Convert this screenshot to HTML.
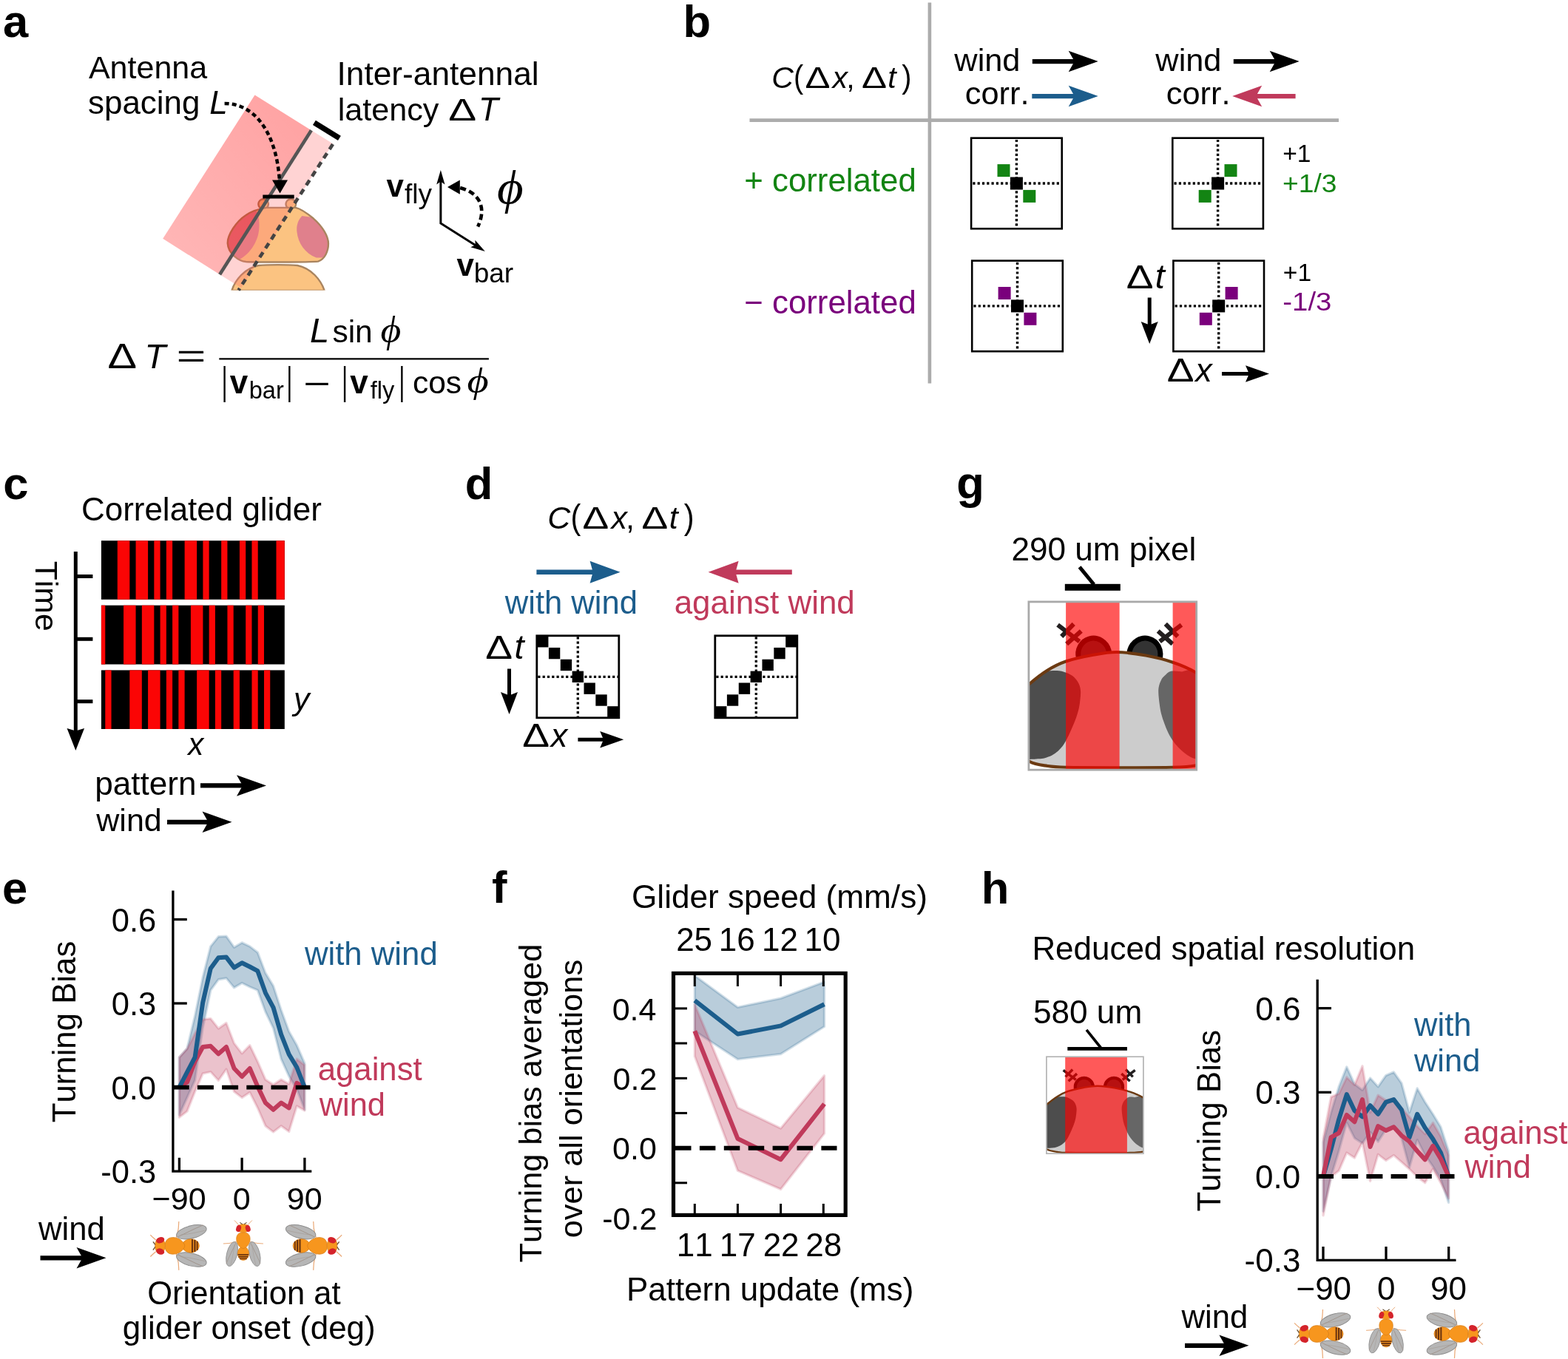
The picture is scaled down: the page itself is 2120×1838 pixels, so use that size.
<!DOCTYPE html>
<html lang="en">
<head>
<meta charset="utf-8">
<title>Figure</title>
<style>
html,body{margin:0;padding:0;background:#fff;}
body{width:2120px;height:1838px;overflow:hidden;}
svg{display:block;}
svg{font-family:"Liberation Sans", Arial, Helvetica, sans-serif;font-kerning:none;}
</style>
</head>
<body>
<svg width="2120" height="1838" viewBox="0 0 2120 1838">
<rect width="2120" height="1838" fill="#fff"/>
<text x="4" y="50.3" font-size="61.5" font-weight="bold">a</text>
<text x="923.55" y="49.6" font-size="61.5" font-weight="bold">b</text>
<text x="4.2" y="675" font-size="61.5" font-weight="bold">c</text>
<text x="628.78" y="674.6" font-size="61.5" font-weight="bold">d</text>
<text x="1293.18" y="674.3" font-size="61.5" font-weight="bold">g</text>
<text x="3.1" y="1222.3" font-size="61.5" font-weight="bold">e</text>
<text x="664.95" y="1221.3" font-size="61.5" font-weight="bold">f</text>
<text x="1326.71" y="1222" font-size="61.5" font-weight="bold">h</text>
<text x="119.92" y="106" font-size="43.02">Antenna</text>
<text x="119.08" y="153.8" font-size="43.91">spacing</text>
<text x="283.15" y="153.8" font-size="44" font-style="italic">L</text>
<text x="455.52" y="115.4" font-size="44.25">Inter-antennal</text>
<text x="456.69" y="163.2" font-size="43.17">latency</text>
<text transform="translate(606.31 163.2) scale(1.3323 1)" font-size="42.6">Δ</text>
<text x="647.05" y="163.2" font-size="44" font-style="italic">T</text>
<defs><linearGradient id="pg" x1="0" y1="1" x2="1" y2="0"><stop offset="0" stop-color="#ff0000" stop-opacity="0.28"/><stop offset="1" stop-color="#ff0000" stop-opacity="0.37"/></linearGradient><clipPath id="clipA"><rect x="200" y="100" width="300" height="292.4"/></clipPath></defs>
<g clip-path="url(#clipA)">
<circle cx="356.11" cy="276.04" r="6.81" fill="#fbc381" stroke="#a9845f" stroke-width="2.4"/><circle cx="393.27" cy="276.04" r="6.81" fill="#fbc381" stroke="#a9845f" stroke-width="2.4"/><defs><clipPath id="clipHeadA"><path d="M 360.37,280.84 L 399.85,280.84 C 406.81,282.38 414.55,287.8 423.84,295.54 C 436.22,306.38 443.96,319.54 443.96,329.6 C 443.96,339.66 439.32,350.5 430.03,353.59 C 416.1,354.75 346.44,354.75 332.51,353.98 C 323.22,353.2 308.51,343.53 307.74,328.82 C 307.35,317.99 319.35,299.41 332.51,290.9 C 338.7,286.64 347.99,282.77 360.37,280.84 Z"/></clipPath></defs><path d="M 360.37,280.84 L 399.85,280.84 C 406.81,282.38 414.55,287.8 423.84,295.54 C 436.22,306.38 443.96,319.54 443.96,329.6 C 443.96,339.66 439.32,350.5 430.03,353.59 C 416.1,354.75 346.44,354.75 332.51,353.98 C 323.22,353.2 308.51,343.53 307.74,328.82 C 307.35,317.99 319.35,299.41 332.51,290.9 C 338.7,286.64 347.99,282.77 360.37,280.84 Z" fill="#fbc381"/><g clip-path="url(#clipHeadA)"><path d="M 346.44,284.71 C 349.54,290.12 351.08,299.41 350.31,308.7 C 349.54,324.18 340.25,341.98 323.22,351.27 L 300,351.27 L 300,284.71 Z" fill="#e0808c"/><path d="M 408.36,292.06 C 402.94,297.86 400.62,304.83 401.39,313.34 C 402.94,328.82 412.23,342.76 427.71,348.56 L 454.8,348.56 L 454.8,302.51 C 439.32,299.41 423.84,293.22 408.36,292.06 Z" fill="#e0808c"/></g><path d="M 360.37,280.84 L 399.85,280.84 C 406.81,282.38 414.55,287.8 423.84,295.54 C 436.22,306.38 443.96,319.54 443.96,329.6 C 443.96,339.66 439.32,350.5 430.03,353.59 C 416.1,354.75 346.44,354.75 332.51,353.98 C 323.22,353.2 308.51,343.53 307.74,328.82 C 307.35,317.99 319.35,299.41 332.51,290.9 C 338.7,286.64 347.99,282.77 360.37,280.84 Z" fill="none" stroke="#a9845f" stroke-width="2.4"/><path d="M 313.31,393.07 C 317.8,378.36 330.96,362.88 349.54,359.01 C 361.92,357.85 389.01,357.85 402.17,359.01 C 420.74,362.88 433.9,378.36 438.7,393.07 Z" fill="#fbc381" stroke="#a9845f" stroke-width="2.4"/>
<polygon points="344.5,128.6 420.9,176.3 297.1,371.3 220.2,322.8" fill="url(#pg)"/>
<polygon points="420.9,176.3 450,194.3 326.2,389.3 297.1,371.3" fill="#ff6e6e" fill-opacity="0.3"/>
</g>
<line x1="420.9" y1="176.3" x2="297.1" y2="371.3" stroke="#555" stroke-width="4.6"/>
<line x1="450" y1="195" x2="322.5" y2="392.4" stroke="#444" stroke-width="4.6" stroke-dasharray="8.2 6.3"/>
<line x1="424.9" y1="165.8" x2="458.9" y2="186.9" stroke="#000" stroke-width="7.3"/>
<line x1="355.3" y1="266.1" x2="397.7" y2="266.1" stroke="#000" stroke-width="5"/>
<path d="M303.6,139.9 C342.4,139.9 373.6,176.3 378,245" fill="none" stroke="#000" stroke-width="4.5" stroke-dasharray="6 4.2"/>
<polygon points="378.5,261.5 368,243.5 389,243.5" fill="#000"/>
<text x="522.54" y="266.3" font-size="42" font-weight="bold">v</text>
<text x="547.08" y="275.4" font-size="37">fly</text>
<text x="617.54" y="372.5" font-size="42" font-weight="bold">v</text>
<text x="640.72" y="381.6" font-size="37">bar</text>
<polyline points="595.85,240 595.85,301.9 650,336.3" fill="none" stroke="#000" stroke-width="3"/>
<polygon points="595.85,230 590.2,249.5 595.85,245.5 601.5,249.5" fill="#000"/>
<polygon points="655.8,340 636.3,334.3 642.7,331.6 642.4,324.8" fill="#000"/>
<path d="M646.1,306.4 C656.5,285 652.5,262 622,254" fill="none" stroke="#000" stroke-width="4.6" stroke-dasharray="8 4.6" stroke-dashoffset="3"/>
<polygon points="605,253.1 621.8,243.4 621.8,262.7" fill="#000"/>
<text transform="translate(672.02 275.41) scale(1.0975 1)" font-size="62.84" font-style="italic" font-family='"Liberation Serif", serif'>ϕ</text>
<text transform="translate(145.54 497.8) scale(1.2255 1)" font-size="48.32">Δ</text>
<text x="195.48" y="497.8" font-size="47" font-style="italic">T</text>
<text transform="translate(238.46 497.3) scale(1.5531 1)" font-size="44">=</text>
<line x1="296.3" y1="485.3" x2="660.9" y2="485.3" stroke="#000" stroke-width="2.2"/>
<text x="419.05" y="463.2" font-size="47" font-style="italic">L</text>
<text x="449.42" y="463.2" font-size="42.5">sin</text>
<text transform="translate(514.57 463.26) scale(1.0751 1)" font-size="49.94" font-style="italic" font-family='"Liberation Serif", serif'>ϕ</text>
<text transform="translate(299.65 532.7) scale(0.5749 1)" font-size="51.5">|</text>
<text transform="translate(387.45 532.7) scale(0.5749 1)" font-size="51.5">|</text>
<text transform="translate(462.25 532.7) scale(0.5749 1)" font-size="51.5">|</text>
<text transform="translate(539.45 532.7) scale(0.5749 1)" font-size="51.5">|</text>
<text x="310.83" y="532.4" font-size="44" font-weight="bold">v</text>
<text x="336.81" y="539" font-size="32.5">bar</text>
<text transform="translate(410.29 533.9) scale(1.4314 1)" font-size="44">−</text>
<text x="473.13" y="532.4" font-size="44" font-weight="bold">v</text>
<text x="500.74" y="539" font-size="32.5">fly</text>
<text x="557.89" y="532.4" font-size="42.5">cos</text>
<text transform="translate(631.6 531.47) scale(1.1637 1)" font-size="48.51" font-style="italic" font-family='"Liberation Serif", serif'>ϕ</text>
<line x1="1256.9" y1="3.5" x2="1256.9" y2="518.5" stroke="#acacac" stroke-width="4.6"/>
<line x1="1013.5" y1="162.6" x2="1810" y2="162.6" stroke="#acacac" stroke-width="4.7"/>
<text x="1043.24" y="119.1" font-size="41" font-style="italic">C</text><text transform="translate(1073.04 119.1) scale(0.8800 1)" font-size="45">(</text><text transform="translate(1088.48 119.1) scale(1.2419 1)" font-size="41.06">Δ</text><text x="1125.54" y="119.1" font-size="41" font-style="italic">x</text><text x="1144.32" y="119.1" font-size="41">,</text><text transform="translate(1164.88 119.1) scale(1.2419 1)" font-size="41.06">Δ</text><text x="1200.34" y="119.1" font-size="41" font-style="italic">t</text><text transform="translate(1219.37 119.1) scale(0.8800 1)" font-size="45">)</text>
<text x="1290.36" y="95.5" font-size="43.34">wind</text>
<text x="1304.86" y="140.6" font-size="43.3">corr.</text>
<line x1="1395.8" y1="83.1" x2="1453.34" y2="83.1" stroke="#000" stroke-width="6.3"/><polygon points="1484.7,83.1 1444.7,97.35 1452.7,83.1 1444.7,68.85" fill="#000"/>
<text x="1562.36" y="95.5" font-size="43.34">wind</text>
<text x="1576.86" y="140.6" font-size="43.3">corr.</text>
<line x1="1667.8" y1="83.1" x2="1725.34" y2="83.1" stroke="#000" stroke-width="6.3"/><polygon points="1756.7,83.1 1716.7,97.35 1724.7,83.1 1716.7,68.85" fill="#000"/>
<line x1="1395.3" y1="130.1" x2="1453.34" y2="130.1" stroke="#1c5d8c" stroke-width="6.3"/><polygon points="1484.7,130.1 1444.7,144.35 1452.7,130.1 1444.7,115.85" fill="#1c5d8c"/>
<line x1="1751.6" y1="130.1" x2="1697.56" y2="130.1" stroke="#c03a5b" stroke-width="6.3"/><polygon points="1666.2,130.1 1706.2,115.85 1698.2,130.1 1706.2,144.35" fill="#c03a5b"/>
<text x="1006.26" y="258.6" font-size="43.81" fill="#138413">+ correlated</text>
<text x="1006.24" y="423.6" font-size="43.81" fill="#7a007c">− correlated</text>
<line x1="1374.4" y1="188.9" x2="1374.4" y2="308.3" stroke="#000" stroke-width="3.4" stroke-dasharray="3.2 3.1"/><line x1="1315.3" y1="248" x2="1434.7" y2="248" stroke="#000" stroke-width="3.4" stroke-dasharray="3.2 3.1"/><rect x="1365.9" y="239.5" width="17" height="17" fill="#000"/><rect x="1348.5" y="222.1" width="17" height="17" fill="#138413"/><rect x="1383.3" y="256.9" width="17" height="17" fill="#138413"/><rect x="1313.1" y="186.7" width="122.6" height="122.6" fill="none" stroke="#000" stroke-width="2.6"/>
<line x1="1646.6" y1="188.9" x2="1646.6" y2="308.3" stroke="#000" stroke-width="3.4" stroke-dasharray="3.2 3.1"/><line x1="1587.5" y1="248" x2="1706.9" y2="248" stroke="#000" stroke-width="3.4" stroke-dasharray="3.2 3.1"/><rect x="1638.1" y="239.5" width="17" height="17" fill="#000"/><rect x="1655.5" y="222.1" width="17" height="17" fill="#138413"/><rect x="1620.7" y="256.9" width="17" height="17" fill="#138413"/><rect x="1585.3" y="186.7" width="122.6" height="122.6" fill="none" stroke="#000" stroke-width="2.6"/>
<line x1="1375.5" y1="354.8" x2="1375.5" y2="474.2" stroke="#000" stroke-width="3.4" stroke-dasharray="3.2 3.1"/><line x1="1316.4" y1="413.9" x2="1435.8" y2="413.9" stroke="#000" stroke-width="3.4" stroke-dasharray="3.2 3.1"/><rect x="1367" y="405.4" width="17" height="17" fill="#000"/><rect x="1349.6" y="388" width="17" height="17" fill="#7a007c"/><rect x="1384.4" y="422.8" width="17" height="17" fill="#7a007c"/><rect x="1314.2" y="352.6" width="122.6" height="122.6" fill="none" stroke="#000" stroke-width="2.6"/>
<line x1="1647.7" y1="354.8" x2="1647.7" y2="474.2" stroke="#000" stroke-width="3.4" stroke-dasharray="3.2 3.1"/><line x1="1588.6" y1="413.9" x2="1708" y2="413.9" stroke="#000" stroke-width="3.4" stroke-dasharray="3.2 3.1"/><rect x="1639.2" y="405.4" width="17" height="17" fill="#000"/><rect x="1656.6" y="388" width="17" height="17" fill="#7a007c"/><rect x="1621.8" y="422.8" width="17" height="17" fill="#7a007c"/><rect x="1586.4" y="352.6" width="122.6" height="122.6" fill="none" stroke="#000" stroke-width="2.6"/>
<text transform="translate(1734.16 219.2) scale(0.9875 1)" font-size="34">+1</text>
<text transform="translate(1733.98 259.7) scale(1.0785 1)" font-size="34.5" fill="#138413">+1/3</text>
<text transform="translate(1734.86 379.6) scale(0.9875 1)" font-size="34">+1</text>
<text transform="translate(1734.3 420) scale(1.1117 1)" font-size="34.5" fill="#7a007c">-1/3</text>
<text transform="translate(1522.66 389.5) scale(1.2330 1)" font-size="44.69">Δ</text>
<text x="1561.67" y="389.5" font-size="47" font-style="italic">t</text>
<line x1="1554.2" y1="402.5" x2="1554.2" y2="440.01" stroke="#000" stroke-width="5"/><polygon points="1554.2,465 1542.7,435 1554.2,439.5 1565.7,435" fill="#000"/>
<text transform="translate(1577.86 515.5) scale(1.2330 1)" font-size="44.69">Δ</text>
<text x="1616.3" y="515.5" font-size="45" font-style="italic">x</text>
<line x1="1652" y1="505.6" x2="1689.34" y2="505.6" stroke="#000" stroke-width="5"/><polygon points="1716,505.6 1684,516.85 1688.8,505.6 1684,494.35" fill="#000"/>
<text x="109.97" y="704.4" font-size="43.96">Correlated glider</text>
<rect x="136.9" y="731.2" width="247.9" height="79.6" fill="#000"/>
<rect x="158.78" y="731.2" width="16.52" height="79.6" fill="#fb0505"/>
<rect x="183.56" y="731.2" width="16.52" height="79.6" fill="#fb0505"/>
<rect x="208.33" y="731.2" width="8.26" height="79.6" fill="#fb0505"/>
<rect x="224.85" y="731.2" width="8.26" height="79.6" fill="#fb0505"/>
<rect x="249.62" y="731.2" width="16.52" height="79.6" fill="#fb0505"/>
<rect x="274.4" y="731.2" width="8.26" height="79.6" fill="#fb0505"/>
<rect x="299.17" y="731.2" width="8.26" height="79.6" fill="#fb0505"/>
<rect x="323.94" y="731.2" width="8.26" height="79.6" fill="#fb0505"/>
<rect x="340.46" y="731.2" width="8.26" height="79.6" fill="#fb0505"/>
<rect x="373.49" y="731.2" width="11.31" height="79.6" fill="#fb0505"/>
<rect x="136.9" y="818.7" width="247.9" height="79.8" fill="#000"/>
<rect x="136.9" y="818.7" width="5.37" height="79.8" fill="#fb0505"/>
<rect x="167.04" y="818.7" width="16.52" height="79.8" fill="#fb0505"/>
<rect x="191.82" y="818.7" width="16.52" height="79.8" fill="#fb0505"/>
<rect x="216.59" y="818.7" width="8.26" height="79.8" fill="#fb0505"/>
<rect x="233.11" y="818.7" width="8.26" height="79.8" fill="#fb0505"/>
<rect x="257.88" y="818.7" width="16.52" height="79.8" fill="#fb0505"/>
<rect x="282.65" y="818.7" width="8.26" height="79.8" fill="#fb0505"/>
<rect x="307.43" y="818.7" width="8.26" height="79.8" fill="#fb0505"/>
<rect x="332.2" y="818.7" width="8.26" height="79.8" fill="#fb0505"/>
<rect x="348.72" y="818.7" width="8.26" height="79.8" fill="#fb0505"/>
<rect x="136.9" y="906.4" width="247.9" height="79.6" fill="#000"/>
<rect x="142.27" y="906.4" width="8.26" height="79.6" fill="#fb0505"/>
<rect x="175.3" y="906.4" width="16.52" height="79.6" fill="#fb0505"/>
<rect x="200.07" y="906.4" width="16.52" height="79.6" fill="#fb0505"/>
<rect x="224.85" y="906.4" width="8.26" height="79.6" fill="#fb0505"/>
<rect x="241.36" y="906.4" width="8.26" height="79.6" fill="#fb0505"/>
<rect x="266.14" y="906.4" width="16.52" height="79.6" fill="#fb0505"/>
<rect x="290.91" y="906.4" width="8.26" height="79.6" fill="#fb0505"/>
<rect x="315.69" y="906.4" width="8.26" height="79.6" fill="#fb0505"/>
<rect x="340.46" y="906.4" width="8.26" height="79.6" fill="#fb0505"/>
<rect x="356.98" y="906.4" width="8.26" height="79.6" fill="#fb0505"/>
<line x1="102.3" y1="746" x2="102.3" y2="989.13" stroke="#000" stroke-width="5"/><polygon points="102.3,1015 90.55,985 102.3,988.6 114.05,985" fill="#000"/>
<line x1="102.3" y1="779.5" x2="125.4" y2="779.5" stroke="#000" stroke-width="5"/>
<line x1="102.3" y1="864.3" x2="125.4" y2="864.3" stroke="#000" stroke-width="5"/>
<line x1="102.3" y1="948.7" x2="125.4" y2="948.7" stroke="#000" stroke-width="5"/>
<text transform="translate(47.7,758.8) rotate(90)" font-size="42.7">Time</text>
<text x="396.94" y="959.5" font-size="43" font-style="italic">y</text>
<text x="254.18" y="1020.8" font-size="42" font-style="italic">x</text>
<text x="128.16" y="1075.1" font-size="44.1">pattern</text>
<line x1="271" y1="1062.4" x2="328.64" y2="1062.4" stroke="#000" stroke-width="6.3"/><polygon points="360,1062.4 320,1076.65 328,1062.4 320,1048.15" fill="#000"/>
<text x="130.26" y="1123.9" font-size="43.04">wind</text>
<line x1="226" y1="1111.8" x2="282.14" y2="1111.8" stroke="#000" stroke-width="6.3"/><polygon points="313.5,1111.8 273.5,1126.05 281.5,1111.8 273.5,1097.55" fill="#000"/>
<g transform="translate(742.6 715) scale(1.047)"><text x="-2.26" y="0" font-size="41" font-style="italic">C</text><text transform="translate(27.54 0) scale(0.8800 1)" font-size="45">(</text><text transform="translate(42.98 0) scale(1.2419 1)" font-size="41.06">Δ</text><text x="80.04" y="0" font-size="41" font-style="italic">x</text><text x="98.82" y="0" font-size="41">,</text><text transform="translate(119.38 0) scale(1.2419 1)" font-size="41.06">Δ</text><text x="154.84" y="0" font-size="41" font-style="italic">t</text><text transform="translate(173.87 0) scale(0.8800 1)" font-size="45">)</text></g>
<line x1="725.4" y1="773.8" x2="802.44" y2="773.8" stroke="#1c5d8c" stroke-width="6.5"/><polygon points="838.6,773.8 797.6,788.8 801.7,773.8 797.6,758.8" fill="#1c5d8c"/>
<line x1="1070.8" y1="773.8" x2="993.76" y2="773.8" stroke="#c03a5b" stroke-width="6.5"/><polygon points="957.6,773.8 998.6,758.8 994.5,773.8 998.6,788.8" fill="#c03a5b"/>
<text x="682.76" y="829.6" font-size="43.58" fill="#1c5d8c">with wind</text>
<text x="911.63" y="829.6" font-size="43.93" fill="#c03a5b">against wind</text>
<line x1="781.3" y1="861.3" x2="781.3" y2="970.3" stroke="#000" stroke-width="3.3" stroke-dasharray="3.2 3.1"/><line x1="727.3" y1="915.3" x2="836.3" y2="915.3" stroke="#000" stroke-width="3.3" stroke-dasharray="3.2 3.1"/><rect x="726.05" y="860.05" width="15.36" height="15.36" fill="#000"/><rect x="741.91" y="875.91" width="15.36" height="15.36" fill="#000"/><rect x="757.76" y="891.76" width="15.36" height="15.36" fill="#000"/><rect x="773.62" y="907.62" width="15.36" height="15.36" fill="#000"/><rect x="789.48" y="923.48" width="15.36" height="15.36" fill="#000"/><rect x="805.34" y="939.34" width="15.36" height="15.36" fill="#000"/><rect x="821.19" y="955.19" width="15.36" height="15.36" fill="#000"/><rect x="725.8" y="859.8" width="111" height="111" fill="none" stroke="#000" stroke-width="2.8"/>
<line x1="1022.3" y1="861.3" x2="1022.3" y2="970.3" stroke="#000" stroke-width="3.3" stroke-dasharray="3.2 3.1"/><line x1="968.3" y1="915.3" x2="1077.3" y2="915.3" stroke="#000" stroke-width="3.3" stroke-dasharray="3.2 3.1"/><rect x="1062.19" y="860.05" width="15.36" height="15.36" fill="#000"/><rect x="1046.34" y="875.91" width="15.36" height="15.36" fill="#000"/><rect x="1030.48" y="891.76" width="15.36" height="15.36" fill="#000"/><rect x="1014.62" y="907.62" width="15.36" height="15.36" fill="#000"/><rect x="998.76" y="923.48" width="15.36" height="15.36" fill="#000"/><rect x="982.91" y="939.34" width="15.36" height="15.36" fill="#000"/><rect x="967.05" y="955.19" width="15.36" height="15.36" fill="#000"/><rect x="966.8" y="859.8" width="111" height="111" fill="none" stroke="#000" stroke-width="2.8"/>
<text transform="translate(656.36 890.5) scale(1.2330 1)" font-size="44.69">Δ</text>
<text x="695.47" y="890.5" font-size="47" font-style="italic">t</text>
<line x1="688.5" y1="904.5" x2="688.5" y2="941.01" stroke="#000" stroke-width="5"/><polygon points="688.5,966 677,936 688.5,940.5 700,936" fill="#000"/>
<text transform="translate(706.36 1010.4) scale(1.2330 1)" font-size="44.69">Δ</text>
<text x="744.8" y="1010.4" font-size="45" font-style="italic">x</text>
<line x1="781.4" y1="1000.3" x2="816.54" y2="1000.3" stroke="#000" stroke-width="5"/><polygon points="843.2,1000.3 811.2,1011.55 816,1000.3 811.2,989.05" fill="#000"/>
<text x="1367.38" y="757.7" font-size="44.09">290 um pixel</text>
<rect x="1439.8" y="789.8" width="75" height="9" fill="#000"/>
<line x1="1459.6" y1="766.9" x2="1479" y2="790.5" stroke="#000" stroke-width="5"/>
<defs><clipPath id="clipG"><rect x="1390.9" y="813.9" width="226.8" height="227.3"/></clipPath></defs>
<g clip-path="url(#clipG)">
<ellipse cx="1478.8" cy="885.1" rx="21" ry="22" fill="#333" stroke="#000" stroke-width="7" transform="rotate(-15 1478.8 885.1)"/><ellipse cx="1547.8" cy="885.1" rx="21" ry="22" fill="#333" stroke="#000" stroke-width="7" transform="rotate(15 1547.8 885.1)"/><line x1="1430.1" y1="845.2" x2="1459.5" y2="867.7" stroke="#231f20" stroke-width="6"/><line x1="1442.1" y1="870.9" x2="1461.8" y2="853.4" stroke="#231f20" stroke-width="6"/><line x1="1435.2" y1="860.8" x2="1451.7" y2="843.8" stroke="#231f20" stroke-width="6"/><line x1="1597.4" y1="845.2" x2="1568" y2="867.7" stroke="#231f20" stroke-width="6"/><line x1="1585.4" y1="870.9" x2="1565.7" y2="853.4" stroke="#231f20" stroke-width="6"/><line x1="1592.3" y1="860.8" x2="1575.8" y2="843.8" stroke="#231f20" stroke-width="6"/><defs><clipPath id="hcG"><path d="M1392.1,924.8 C1399.15,918.72 1408.13,911.55 1416.3,906.5 C1424.47,901.45 1431.02,897.92 1441.1,894.5 C1451.18,891.08 1465.32,888.08 1476.8,886 C1488.28,883.92 1497.92,881.92 1510,882 C1522.08,882.08 1536.7,884.22 1549.3,886.5 C1561.9,888.78 1574.52,891.95 1585.6,895.7 C1596.68,899.45 1606.73,903.62 1615.8,909 C1624.87,914.38 1633.47,918.67 1640,928 C1646.53,937.33 1653.33,952.17 1655,965 C1656.67,977.83 1653.83,994.5 1650,1005 C1646.17,1015.5 1637.7,1022.93 1632,1028 C1626.3,1033.07 1623.53,1033.77 1615.8,1035.4 C1608.07,1037.03 1602.73,1037.33 1585.6,1037.8 C1568.47,1038.27 1537.08,1038.2 1513,1038.2 C1488.92,1038.2 1457.22,1038.17 1441.1,1037.8 C1424.98,1037.43 1424.47,1037.3 1416.3,1036 C1408.13,1034.7 1399.15,1034 1392.1,1030 C1385.05,1026 1378.35,1021.17 1374,1012 C1369.65,1002.83 1366,986.5 1366,975 C1366,963.5 1369.65,951.37 1374,943 C1378.35,934.63 1385.05,930.88 1392.1,924.8 Z"/></clipPath></defs><path d="M1392.1,924.8 C1399.15,918.72 1408.13,911.55 1416.3,906.5 C1424.47,901.45 1431.02,897.92 1441.1,894.5 C1451.18,891.08 1465.32,888.08 1476.8,886 C1488.28,883.92 1497.92,881.92 1510,882 C1522.08,882.08 1536.7,884.22 1549.3,886.5 C1561.9,888.78 1574.52,891.95 1585.6,895.7 C1596.68,899.45 1606.73,903.62 1615.8,909 C1624.87,914.38 1633.47,918.67 1640,928 C1646.53,937.33 1653.33,952.17 1655,965 C1656.67,977.83 1653.83,994.5 1650,1005 C1646.17,1015.5 1637.7,1022.93 1632,1028 C1626.3,1033.07 1623.53,1033.77 1615.8,1035.4 C1608.07,1037.03 1602.73,1037.33 1585.6,1037.8 C1568.47,1038.27 1537.08,1038.2 1513,1038.2 C1488.92,1038.2 1457.22,1038.17 1441.1,1037.8 C1424.98,1037.43 1424.47,1037.3 1416.3,1036 C1408.13,1034.7 1399.15,1034 1392.1,1030 C1385.05,1026 1378.35,1021.17 1374,1012 C1369.65,1002.83 1366,986.5 1366,975 C1366,963.5 1369.65,951.37 1374,943 C1378.35,934.63 1385.05,930.88 1392.1,924.8 Z" fill="#ccc"/><g clip-path="url(#hcG)"><path d="M1416.28,907.21 C1418.91,907.21 1427.37,906.61 1432.01,907.21 C1436.64,907.82 1440.68,909.33 1444.1,910.84 C1447.53,912.35 1450.15,913.97 1452.57,916.28 C1454.99,918.6 1457.21,921.73 1458.62,924.75 C1460.03,927.77 1460.73,930.8 1461.04,934.43 C1461.34,938.06 1460.83,942.49 1460.43,946.52 C1460.03,950.55 1459.52,954.58 1458.62,958.62 C1457.71,962.65 1456.4,966.68 1454.99,970.71 C1453.58,974.74 1451.86,978.77 1450.15,982.81 C1448.44,986.84 1446.72,990.87 1444.71,994.9 C1442.69,998.93 1440.37,1003.57 1438.06,1007 C1435.74,1010.42 1433.42,1013.04 1430.8,1015.46 C1428.18,1017.88 1425.36,1019.9 1422.33,1021.51 C1419.31,1023.12 1415.68,1024.33 1412.66,1025.14 C1409.63,1025.94 1407.62,1026.04 1404.19,1026.35 C1400.76,1026.65 1398.14,1026.85 1392.09,1026.95 C1386.05,1027.05 1371.94,1026.95 1367.91,1026.95 L1343.72,1026.95 L1343.72,892.09 Z" fill="#4d4d4d"/><path d="M1597.71,908.42 C1595.29,908.32 1587.02,906.91 1583.19,907.82 C1579.36,908.73 1576.94,911.85 1574.73,913.87 C1572.51,915.88 1571.2,917.49 1569.89,919.91 C1568.58,922.33 1567.47,925.56 1566.87,928.38 C1566.26,931.2 1566.16,933.22 1566.26,936.85 C1566.36,940.47 1566.87,945.51 1567.47,950.15 C1568.07,954.79 1568.78,960.03 1569.89,964.66 C1571,969.3 1572.51,973.53 1574.12,977.97 C1575.73,982.4 1577.45,987.04 1579.56,991.27 C1581.68,995.51 1584.2,999.74 1586.82,1003.37 C1589.44,1007 1592.26,1010.12 1595.29,1013.04 C1598.31,1015.97 1601.54,1018.69 1604.96,1020.9 C1608.39,1023.12 1611.01,1024.94 1615.85,1026.35 C1620.69,1027.76 1630.97,1028.87 1633.99,1029.37 L1658.18,1029.37 L1658.18,892.09 Z" fill="#666"/></g><path d="M1392.1,924.8 C1399.15,918.72 1408.13,911.55 1416.3,906.5 C1424.47,901.45 1431.02,897.92 1441.1,894.5 C1451.18,891.08 1465.32,888.08 1476.8,886 C1488.28,883.92 1497.92,881.92 1510,882 C1522.08,882.08 1536.7,884.22 1549.3,886.5 C1561.9,888.78 1574.52,891.95 1585.6,895.7 C1596.68,899.45 1606.73,903.62 1615.8,909 C1624.87,914.38 1633.47,918.67 1640,928 C1646.53,937.33 1653.33,952.17 1655,965 C1656.67,977.83 1653.83,994.5 1650,1005 C1646.17,1015.5 1637.7,1022.93 1632,1028 C1626.3,1033.07 1623.53,1033.77 1615.8,1035.4 C1608.07,1037.03 1602.73,1037.33 1585.6,1037.8 C1568.47,1038.27 1537.08,1038.2 1513,1038.2 C1488.92,1038.2 1457.22,1038.17 1441.1,1037.8 C1424.98,1037.43 1424.47,1037.3 1416.3,1036 C1408.13,1034.7 1399.15,1034 1392.1,1030 C1385.05,1026 1378.35,1021.17 1374,1012 C1369.65,1002.83 1366,986.5 1366,975 C1366,963.5 1369.65,951.37 1374,943 C1378.35,934.63 1385.05,930.88 1392.1,924.8 Z" fill="none" stroke="#6b3a12" stroke-width="4.1"/>
<rect x="1441.1" y="813.9" width="72.5" height="227.3" fill="#ff0000" fill-opacity="0.65"/>
<rect x="1585.6" y="813.9" width="34.4" height="227.3" fill="#ff0000" fill-opacity="0.65"/>
</g>
<rect x="1390.9" y="813.9" width="226.8" height="227.3" fill="none" stroke="#a9a9a9" stroke-width="2.8"/>
<polygon points="242.4,1430 252.99,1418 263.59,1374 274.18,1322 284.78,1280 295.37,1266.8 305.96,1266.2 316.56,1281.3 327.15,1274.9 337.75,1280 348.34,1288.2 358.93,1316 369.53,1333.5 380.12,1366 390.72,1395 401.31,1413.7 411.9,1438 411.9,1500.7 401.31,1473 390.72,1455.5 380.12,1432.2 369.53,1390.4 358.93,1368.4 348.34,1339.3 337.75,1334.7 327.15,1329.5 316.56,1335.8 305.96,1323 295.37,1324.8 284.78,1339.3 274.18,1390 263.59,1461 252.99,1484.5 242.4,1507.7" fill="#1c5d8c" fill-opacity="0.31" stroke="#1c5d8c" stroke-opacity="0.2" stroke-width="3.4" stroke-linejoin="round"/>
<polygon points="242.4,1430 252.99,1418.5 263.59,1397.5 274.18,1378.8 284.78,1377.6 295.37,1391 305.96,1383.5 316.56,1411 327.15,1424.7 337.75,1413.7 348.34,1435.7 358.93,1460 369.53,1467 380.12,1460 390.72,1466 401.31,1432.2 411.9,1440.4 411.9,1502 401.31,1496 390.72,1530.4 380.12,1522.8 369.53,1531 358.93,1522.8 348.34,1498.4 337.75,1477.5 327.15,1484.5 316.56,1476.4 305.96,1446.2 295.37,1461.3 284.78,1449.7 274.18,1452 263.59,1476.4 252.99,1503 242.4,1511.2" fill="#c03a5b" fill-opacity="0.31" stroke="#c03a5b" stroke-opacity="0.2" stroke-width="3.4" stroke-linejoin="round"/>
<polyline points="242.4,1470.6 252.99,1463.6 263.59,1435.7 274.18,1416 284.78,1414.8 295.37,1425.3 305.96,1416 316.56,1445 327.15,1456 337.75,1445 348.34,1469.4 358.93,1491.5 369.53,1500.8 380.12,1491.5 390.72,1498.4 401.31,1464.8 411.9,1470.6" fill="none" stroke="#c03a5b" stroke-width="6" stroke-linejoin="round"/>
<polyline points="242.4,1470.6 252.99,1450 263.59,1430 274.18,1356 284.78,1309.7 295.37,1295.2 305.96,1294.6 316.56,1308.6 327.15,1302.2 337.75,1307.5 348.34,1313.2 358.93,1342.8 369.53,1362.6 380.12,1399 390.72,1426 401.31,1443.5 411.9,1470.6" fill="none" stroke="#1c5d8c" stroke-width="6" stroke-linejoin="round"/>
<line x1="233.7" y1="1470.6" x2="419.5" y2="1470.6" stroke="#000" stroke-width="5.8" stroke-dasharray="22 11.2"/>
<polyline points="233.9,1204.4 233.9,1584.2 421.3,1584.2" fill="none" stroke="#000" stroke-width="3.3"/>
<line x1="233.9" y1="1243.5" x2="252.8" y2="1243.5" stroke="#000" stroke-width="3.3"/>
<line x1="233.9" y1="1357" x2="252.8" y2="1357" stroke="#000" stroke-width="3.3"/>
<line x1="233.9" y1="1470.6" x2="252.8" y2="1470.6" stroke="#000" stroke-width="3.3"/>
<line x1="242.4" y1="1565.8" x2="242.4" y2="1584.2" stroke="#000" stroke-width="3.3"/>
<line x1="327.1" y1="1565.8" x2="327.1" y2="1584.2" stroke="#000" stroke-width="3.3"/>
<line x1="411.9" y1="1565.8" x2="411.9" y2="1584.2" stroke="#000" stroke-width="3.3"/>
<text x="150.74" y="1259.5" font-size="43.5">0.6</text>
<text x="150.74" y="1373" font-size="43.5">0.3</text>
<text x="150.53" y="1486.6" font-size="43.5">0.0</text>
<text x="136.25" y="1600.2" font-size="43.5">-0.3</text>
<text x="205.61" y="1636" font-size="43">−90</text>
<text x="314.74" y="1636" font-size="43">0</text>
<text x="387.82" y="1636" font-size="43">90</text>
<g transform="translate(102.2,1395.8) rotate(-90)"><text x="-122.48" y="0" font-size="43.74">Turning Bias</text></g>
<text x="411.96" y="1305.4" font-size="43.71" fill="#1c5d8c">with wind</text>
<text x="429.74" y="1460.5" font-size="43.69" fill="#c03a5b">against</text>
<text x="431.66" y="1508.5" font-size="43.44" fill="#c03a5b">wind</text>
<text x="52.06" y="1676.5" font-size="43.64">wind</text><line x1="54.5" y1="1701.3" x2="112.14" y2="1701.3" stroke="#000" stroke-width="6.3"/><polygon points="143.5,1701.3 103.5,1715.55 111.5,1701.3 103.5,1687.05" fill="#000"/>
<g transform="translate(241.8 1684.9) rotate(-90) scale(1.22)"><g transform="scale(1 1)"><path d="M6.5,-25.5 L9.5,-29 L12,-31.5" fill="none" stroke="#eaa977" stroke-width="1"/><path d="M9,-3 L14,-1.5 L19,-0.5 L27,0" fill="none" stroke="#eaa977" stroke-width="1"/><path d="M6,10 L10,17 L11,22" fill="none" stroke="#eaa977" stroke-width="1"/><ellipse cx="15.3" cy="14" rx="7" ry="17" transform="rotate(-14 15.3 14)" fill="#b6b6b6" stroke="#8c8c8c" stroke-width="0.8"/><path d="M10,-1 C14,8 19,17 23,27" fill="none" stroke="#9d8f86" stroke-width="0.7"/><path d="M12,2 C13,12 15,20 17,29" fill="none" stroke="#a39a94" stroke-width="0.5"/></g><g transform="scale(-1 1)"><path d="M6.5,-25.5 L9.5,-29 L12,-31.5" fill="none" stroke="#eaa977" stroke-width="1"/><path d="M9,-3 L14,-1.5 L19,-0.5 L27,0" fill="none" stroke="#eaa977" stroke-width="1"/><path d="M6,10 L10,17 L11,22" fill="none" stroke="#eaa977" stroke-width="1"/><ellipse cx="15.3" cy="14" rx="7" ry="17" transform="rotate(-14 15.3 14)" fill="#b6b6b6" stroke="#8c8c8c" stroke-width="0.8"/><path d="M10,-1 C14,8 19,17 23,27" fill="none" stroke="#9d8f86" stroke-width="0.7"/><path d="M12,2 C13,12 15,20 17,29" fill="none" stroke="#a39a94" stroke-width="0.5"/></g><ellipse cx="0" cy="13.2" rx="7.6" ry="9.4" fill="#f7961e" stroke="#d9801a" stroke-width="0.6"/><line x1="-7.4" y1="14.9" x2="7.4" y2="14.9" stroke="#6b3410" stroke-width="1.7"/><line x1="-6.6" y1="17.7" x2="6.6" y2="17.7" stroke="#6b3410" stroke-width="1.9"/><line x1="-5" y1="20.4" x2="5" y2="20.4" stroke="#6b3410" stroke-width="1.6"/><path d="M0,-15.3 C6.5,-15.3 9.6,-11.5 9.2,-5.5 C8.8,0.5 4.5,5.8 0,6.6 C-4.5,5.8 -8.8,0.5 -9.2,-5.5 C-9.6,-11.5 -6.5,-15.3 0,-15.3 Z" fill="#f7961e" stroke="#d9801a" stroke-width="0.7"/><ellipse cx="0" cy="-20.8" rx="8.8" ry="5.7" fill="#f7961e" stroke="#d9801a" stroke-width="0.5"/><ellipse cx="6.3" cy="-20.6" rx="3.3" ry="4.7" fill="#d4232b" transform="rotate(-18 6.3 -20.6)"/><line x1="1.2" y1="-26.2" x2="4.6" y2="-28.6" stroke="#6b5030" stroke-width="1.1"/><ellipse cx="-6.3" cy="-20.6" rx="3.3" ry="4.7" fill="#d4232b" transform="rotate(18 -6.3 -20.6)"/><line x1="-1.2" y1="-26.2" x2="-4.6" y2="-28.6" stroke="#6b5030" stroke-width="1.1"/></g>
<g transform="translate(328.9 1682) rotate(0) scale(1)"><g transform="scale(1 1)"><path d="M6.5,-25.5 L9.5,-29 L12,-31.5" fill="none" stroke="#eaa977" stroke-width="1"/><path d="M9,-3 L14,-1.5 L19,-0.5 L27,0" fill="none" stroke="#eaa977" stroke-width="1"/><path d="M6,10 L10,17 L11,22" fill="none" stroke="#eaa977" stroke-width="1"/><ellipse cx="15.3" cy="14" rx="7" ry="17" transform="rotate(-14 15.3 14)" fill="#b6b6b6" stroke="#8c8c8c" stroke-width="0.8"/><path d="M10,-1 C14,8 19,17 23,27" fill="none" stroke="#9d8f86" stroke-width="0.7"/><path d="M12,2 C13,12 15,20 17,29" fill="none" stroke="#a39a94" stroke-width="0.5"/></g><g transform="scale(-1 1)"><path d="M6.5,-25.5 L9.5,-29 L12,-31.5" fill="none" stroke="#eaa977" stroke-width="1"/><path d="M9,-3 L14,-1.5 L19,-0.5 L27,0" fill="none" stroke="#eaa977" stroke-width="1"/><path d="M6,10 L10,17 L11,22" fill="none" stroke="#eaa977" stroke-width="1"/><ellipse cx="15.3" cy="14" rx="7" ry="17" transform="rotate(-14 15.3 14)" fill="#b6b6b6" stroke="#8c8c8c" stroke-width="0.8"/><path d="M10,-1 C14,8 19,17 23,27" fill="none" stroke="#9d8f86" stroke-width="0.7"/><path d="M12,2 C13,12 15,20 17,29" fill="none" stroke="#a39a94" stroke-width="0.5"/></g><ellipse cx="0" cy="13.2" rx="7.6" ry="9.4" fill="#f7961e" stroke="#d9801a" stroke-width="0.6"/><line x1="-7.4" y1="14.9" x2="7.4" y2="14.9" stroke="#6b3410" stroke-width="1.7"/><line x1="-6.6" y1="17.7" x2="6.6" y2="17.7" stroke="#6b3410" stroke-width="1.9"/><line x1="-5" y1="20.4" x2="5" y2="20.4" stroke="#6b3410" stroke-width="1.6"/><path d="M0,-15.3 C6.5,-15.3 9.6,-11.5 9.2,-5.5 C8.8,0.5 4.5,5.8 0,6.6 C-4.5,5.8 -8.8,0.5 -9.2,-5.5 C-9.6,-11.5 -6.5,-15.3 0,-15.3 Z" fill="#f7961e" stroke="#d9801a" stroke-width="0.7"/><ellipse cx="0" cy="-20.8" rx="8.8" ry="5.7" fill="#f7961e" stroke="#d9801a" stroke-width="0.5"/><ellipse cx="6.3" cy="-20.6" rx="3.3" ry="4.7" fill="#d4232b" transform="rotate(-18 6.3 -20.6)"/><line x1="1.2" y1="-26.2" x2="4.6" y2="-28.6" stroke="#6b5030" stroke-width="1.1"/><ellipse cx="-6.3" cy="-20.6" rx="3.3" ry="4.7" fill="#d4232b" transform="rotate(18 -6.3 -20.6)"/><line x1="-1.2" y1="-26.2" x2="-4.6" y2="-28.6" stroke="#6b5030" stroke-width="1.1"/></g>
<g transform="translate(423.7 1684.9) rotate(90) scale(1.22)"><g transform="scale(1 1)"><path d="M6.5,-25.5 L9.5,-29 L12,-31.5" fill="none" stroke="#eaa977" stroke-width="1"/><path d="M9,-3 L14,-1.5 L19,-0.5 L27,0" fill="none" stroke="#eaa977" stroke-width="1"/><path d="M6,10 L10,17 L11,22" fill="none" stroke="#eaa977" stroke-width="1"/><ellipse cx="15.3" cy="14" rx="7" ry="17" transform="rotate(-14 15.3 14)" fill="#b6b6b6" stroke="#8c8c8c" stroke-width="0.8"/><path d="M10,-1 C14,8 19,17 23,27" fill="none" stroke="#9d8f86" stroke-width="0.7"/><path d="M12,2 C13,12 15,20 17,29" fill="none" stroke="#a39a94" stroke-width="0.5"/></g><g transform="scale(-1 1)"><path d="M6.5,-25.5 L9.5,-29 L12,-31.5" fill="none" stroke="#eaa977" stroke-width="1"/><path d="M9,-3 L14,-1.5 L19,-0.5 L27,0" fill="none" stroke="#eaa977" stroke-width="1"/><path d="M6,10 L10,17 L11,22" fill="none" stroke="#eaa977" stroke-width="1"/><ellipse cx="15.3" cy="14" rx="7" ry="17" transform="rotate(-14 15.3 14)" fill="#b6b6b6" stroke="#8c8c8c" stroke-width="0.8"/><path d="M10,-1 C14,8 19,17 23,27" fill="none" stroke="#9d8f86" stroke-width="0.7"/><path d="M12,2 C13,12 15,20 17,29" fill="none" stroke="#a39a94" stroke-width="0.5"/></g><ellipse cx="0" cy="13.2" rx="7.6" ry="9.4" fill="#f7961e" stroke="#d9801a" stroke-width="0.6"/><line x1="-7.4" y1="14.9" x2="7.4" y2="14.9" stroke="#6b3410" stroke-width="1.7"/><line x1="-6.6" y1="17.7" x2="6.6" y2="17.7" stroke="#6b3410" stroke-width="1.9"/><line x1="-5" y1="20.4" x2="5" y2="20.4" stroke="#6b3410" stroke-width="1.6"/><path d="M0,-15.3 C6.5,-15.3 9.6,-11.5 9.2,-5.5 C8.8,0.5 4.5,5.8 0,6.6 C-4.5,5.8 -8.8,0.5 -9.2,-5.5 C-9.6,-11.5 -6.5,-15.3 0,-15.3 Z" fill="#f7961e" stroke="#d9801a" stroke-width="0.7"/><ellipse cx="0" cy="-20.8" rx="8.8" ry="5.7" fill="#f7961e" stroke="#d9801a" stroke-width="0.5"/><ellipse cx="6.3" cy="-20.6" rx="3.3" ry="4.7" fill="#d4232b" transform="rotate(-18 6.3 -20.6)"/><line x1="1.2" y1="-26.2" x2="4.6" y2="-28.6" stroke="#6b5030" stroke-width="1.1"/><ellipse cx="-6.3" cy="-20.6" rx="3.3" ry="4.7" fill="#d4232b" transform="rotate(18 -6.3 -20.6)"/><line x1="-1.2" y1="-26.2" x2="-4.6" y2="-28.6" stroke="#6b5030" stroke-width="1.1"/></g>
<text x="199.24" y="1764" font-size="43.54">Orientation at</text>
<text x="165.86" y="1811.3" font-size="43.93">glider onset (deg)</text>
<polygon points="939.3,1319.5 997.4,1362.3 1055.6,1350.2 1114.5,1328 1114.5,1388.4 1055.6,1425.6 997.4,1432.6 939.3,1394.4" fill="#1c5d8c" fill-opacity="0.31" stroke="#1c5d8c" stroke-opacity="0.2" stroke-width="3.4" stroke-linejoin="round"/>
<polygon points="939.3,1358.3 997.4,1498 1055.6,1526 1114.5,1454.7 1114.5,1533 1055.6,1608.4 997.4,1583.3 939.3,1428.6" fill="#c03a5b" fill-opacity="0.31" stroke="#c03a5b" stroke-opacity="0.2" stroke-width="3.4" stroke-linejoin="round"/>
<polyline points="939.3,1394.4 997.4,1540 1055.6,1568.2 1114.5,1493" fill="none" stroke="#c03a5b" stroke-width="6" stroke-linejoin="round"/>
<polyline points="939.3,1353.2 997.4,1398.5 1055.6,1387.4 1114.5,1358.3" fill="none" stroke="#1c5d8c" stroke-width="6" stroke-linejoin="round"/>
<line x1="913" y1="1552.8" x2="1131.5" y2="1552.8" stroke="#000" stroke-width="6" stroke-dasharray="21.5 11.4"/>
<line x1="939.3" y1="1318" x2="939.3" y2="1334" stroke="#000" stroke-width="3"/>
<line x1="939.3" y1="1628" x2="939.3" y2="1642" stroke="#000" stroke-width="3"/>
<line x1="997.4" y1="1318" x2="997.4" y2="1334" stroke="#000" stroke-width="3"/>
<line x1="997.4" y1="1628" x2="997.4" y2="1642" stroke="#000" stroke-width="3"/>
<line x1="1055.6" y1="1318" x2="1055.6" y2="1334" stroke="#000" stroke-width="3"/>
<line x1="1055.6" y1="1628" x2="1055.6" y2="1642" stroke="#000" stroke-width="3"/>
<line x1="1113.3" y1="1318" x2="1113.3" y2="1334" stroke="#000" stroke-width="3"/>
<line x1="1113.3" y1="1628" x2="1113.3" y2="1642" stroke="#000" stroke-width="3"/>
<line x1="912" y1="1363.9" x2="929" y2="1363.9" stroke="#000" stroke-width="3"/>
<line x1="912" y1="1411" x2="929" y2="1411" stroke="#000" stroke-width="3"/>
<line x1="912" y1="1458.3" x2="929" y2="1458.3" stroke="#000" stroke-width="3"/>
<line x1="912" y1="1505.4" x2="929" y2="1505.4" stroke="#000" stroke-width="3"/>
<line x1="912" y1="1552.7" x2="929" y2="1552.7" stroke="#000" stroke-width="3"/>
<line x1="912" y1="1599.8" x2="929" y2="1599.8" stroke="#000" stroke-width="3"/>
<rect x="910.5" y="1316.4" width="232.7" height="327" fill="none" stroke="#000" stroke-width="5.2"/>
<text x="827.68" y="1379.6" font-size="43">0.4</text>
<text x="828.59" y="1474" font-size="43">0.2</text>
<text x="828.1" y="1568.4" font-size="43">0.0</text>
<text x="814.27" y="1662.7" font-size="43">-0.2</text>
<text x="914.73" y="1699.2" font-size="44">11</text>
<text x="914.15" y="1285.5" font-size="44">25</text>
<text x="972.86" y="1699.2" font-size="44">17</text>
<text x="971.72" y="1285.5" font-size="44">16</text>
<text x="1031.63" y="1699.2" font-size="44">22</text>
<text x="1030.06" y="1285.5" font-size="44">12</text>
<text x="1089.18" y="1699.2" font-size="44">28</text>
<text x="1087.51" y="1285.5" font-size="44">10</text>
<text x="853.98" y="1227.8" font-size="44.16">Glider speed (mm/s)</text>
<text x="847" y="1758.8" font-size="43.94">Pattern update (ms)</text>
<g transform="translate(732.2,1493) rotate(-90)"><text x="-214.47" y="0" font-size="43.29">Turning bias averaged</text></g>
<g transform="translate(787.2,1486) rotate(-90)"><text x="-188.32" y="0" font-size="43.41">over all orientations</text></g>
<text x="1395.39" y="1298.2" font-size="43.95">Reduced spatial resolution</text>
<polygon points="1789.03,1545.14 1799.62,1504.5 1810.22,1469.67 1820.81,1442.96 1831.41,1466.18 1842,1474.31 1852.6,1458.06 1863.19,1469.67 1873.79,1454.57 1884.38,1449.93 1894.98,1465.02 1905.57,1504.5 1916.17,1471.99 1926.76,1490.57 1937.36,1506.82 1947.95,1524.24 1958.55,1556.75 1958.55,1626.42 1947.95,1595.07 1937.36,1577.65 1926.76,1562.55 1916.17,1541.65 1905.57,1578.81 1894.98,1539.33 1884.38,1523.08 1873.79,1527.72 1863.19,1543.98 1852.6,1531.2 1842,1546.3 1831.41,1539.33 1820.81,1518.43 1810.22,1556.75 1799.62,1591.58 1789.03,1638.03" fill="#1c5d8c" fill-opacity="0.31" stroke="#1c5d8c" stroke-opacity="0.2" stroke-width="3.4" stroke-linejoin="round"/>
<polygon points="1789.03,1539.33 1799.62,1483.6 1810.22,1478.96 1820.81,1456.89 1831.41,1467.34 1842,1441.8 1852.6,1504.5 1863.19,1481.28 1873.79,1488.24 1884.38,1485.92 1894.98,1498.69 1905.57,1510.3 1916.17,1523.08 1926.76,1533.53 1937.36,1518.43 1947.95,1537.01 1958.55,1562.55 1958.55,1620.61 1947.95,1599.71 1937.36,1581.13 1926.76,1599.71 1916.17,1591.58 1905.57,1581.13 1894.98,1571.84 1884.38,1562.55 1873.79,1569.52 1863.19,1561.39 1852.6,1597.39 1842,1545.14 1831.41,1566.04 1820.81,1559.07 1810.22,1583.45 1799.62,1591.58 1789.03,1643.83" fill="#c03a5b" fill-opacity="0.31" stroke="#c03a5b" stroke-opacity="0.2" stroke-width="3.4" stroke-linejoin="round"/>
<polyline points="1789.03,1591 1799.62,1554.43 1810.22,1513.79 1820.81,1480.12 1831.41,1502.18 1842,1510.3 1852.6,1495.21 1863.19,1506.82 1873.79,1490.57 1884.38,1487.08 1894.98,1501.02 1905.57,1538.17 1916.17,1506.82 1926.76,1525.4 1937.36,1540.49 1947.95,1559.07 1958.55,1591" fill="none" stroke="#1c5d8c" stroke-width="6" stroke-linejoin="round"/>
<polyline points="1789.03,1591 1799.62,1538.17 1810.22,1532.37 1820.81,1507.98 1831.41,1517.27 1842,1487.08 1852.6,1550.94 1863.19,1523.08 1873.79,1528.88 1884.38,1524.24 1894.98,1535.85 1905.57,1543.98 1916.17,1556.75 1926.76,1568.36 1937.36,1549.78 1947.95,1567.2 1958.55,1591" fill="none" stroke="#c03a5b" stroke-width="6" stroke-linejoin="round"/>
<line x1="1781" y1="1591" x2="1966.5" y2="1591" stroke="#000" stroke-width="5.8" stroke-dasharray="22 11.2"/>
<polyline points="1781.2,1324.7 1781.2,1704.4 1968.5,1704.4" fill="none" stroke="#000" stroke-width="3.3"/>
<line x1="1781.2" y1="1363.6" x2="1800" y2="1363.6" stroke="#000" stroke-width="3.3"/>
<line x1="1781.2" y1="1477.3" x2="1800" y2="1477.3" stroke="#000" stroke-width="3.3"/>
<line x1="1781.2" y1="1591" x2="1800" y2="1591" stroke="#000" stroke-width="3.3"/>
<line x1="1789" y1="1686" x2="1789" y2="1704.4" stroke="#000" stroke-width="3.3"/>
<line x1="1874" y1="1686" x2="1874" y2="1704.4" stroke="#000" stroke-width="3.3"/>
<line x1="1958.7" y1="1686" x2="1958.7" y2="1704.4" stroke="#000" stroke-width="3.3"/>
<text x="1697.27" y="1379.5" font-size="44">0.6</text>
<text x="1697.27" y="1493.2" font-size="44">0.3</text>
<text x="1697.05" y="1606.9" font-size="44">0.0</text>
<text x="1682.62" y="1720.3" font-size="44">-0.3</text>
<text x="1752.46" y="1758.3" font-size="44">−90</text>
<text x="1861.96" y="1758.3" font-size="44">0</text>
<text x="1933.96" y="1758.3" font-size="44">90</text>
<g transform="translate(1649.8,1516) rotate(-90)"><text x="-122.48" y="0" font-size="43.74">Turning Bias</text></g>
<text x="1912.06" y="1401.3" font-size="43.5" fill="#1c5d8c">with</text>
<text x="1912.06" y="1448.5" font-size="43.39" fill="#1c5d8c">wind</text>
<text x="1978.54" y="1546.9" font-size="43.69" fill="#c03a5b">against</text>
<text x="1980.46" y="1592.5" font-size="43.44" fill="#c03a5b">wind</text>
<text x="1597.56" y="1795.6" font-size="43.64">wind</text><line x1="1602" y1="1819.8" x2="1657.04" y2="1819.8" stroke="#000" stroke-width="6.3"/><polygon points="1688.4,1819.8 1648.4,1834.05 1656.4,1819.8 1648.4,1805.55" fill="#000"/>
<g transform="translate(1788.5 1804) rotate(-90) scale(1.22)"><g transform="scale(1 1)"><path d="M6.5,-25.5 L9.5,-29 L12,-31.5" fill="none" stroke="#eaa977" stroke-width="1"/><path d="M9,-3 L14,-1.5 L19,-0.5 L27,0" fill="none" stroke="#eaa977" stroke-width="1"/><path d="M6,10 L10,17 L11,22" fill="none" stroke="#eaa977" stroke-width="1"/><ellipse cx="15.3" cy="14" rx="7" ry="17" transform="rotate(-14 15.3 14)" fill="#b6b6b6" stroke="#8c8c8c" stroke-width="0.8"/><path d="M10,-1 C14,8 19,17 23,27" fill="none" stroke="#9d8f86" stroke-width="0.7"/><path d="M12,2 C13,12 15,20 17,29" fill="none" stroke="#a39a94" stroke-width="0.5"/></g><g transform="scale(-1 1)"><path d="M6.5,-25.5 L9.5,-29 L12,-31.5" fill="none" stroke="#eaa977" stroke-width="1"/><path d="M9,-3 L14,-1.5 L19,-0.5 L27,0" fill="none" stroke="#eaa977" stroke-width="1"/><path d="M6,10 L10,17 L11,22" fill="none" stroke="#eaa977" stroke-width="1"/><ellipse cx="15.3" cy="14" rx="7" ry="17" transform="rotate(-14 15.3 14)" fill="#b6b6b6" stroke="#8c8c8c" stroke-width="0.8"/><path d="M10,-1 C14,8 19,17 23,27" fill="none" stroke="#9d8f86" stroke-width="0.7"/><path d="M12,2 C13,12 15,20 17,29" fill="none" stroke="#a39a94" stroke-width="0.5"/></g><ellipse cx="0" cy="13.2" rx="7.6" ry="9.4" fill="#f7961e" stroke="#d9801a" stroke-width="0.6"/><line x1="-7.4" y1="14.9" x2="7.4" y2="14.9" stroke="#6b3410" stroke-width="1.7"/><line x1="-6.6" y1="17.7" x2="6.6" y2="17.7" stroke="#6b3410" stroke-width="1.9"/><line x1="-5" y1="20.4" x2="5" y2="20.4" stroke="#6b3410" stroke-width="1.6"/><path d="M0,-15.3 C6.5,-15.3 9.6,-11.5 9.2,-5.5 C8.8,0.5 4.5,5.8 0,6.6 C-4.5,5.8 -8.8,0.5 -9.2,-5.5 C-9.6,-11.5 -6.5,-15.3 0,-15.3 Z" fill="#f7961e" stroke="#d9801a" stroke-width="0.7"/><ellipse cx="0" cy="-20.8" rx="8.8" ry="5.7" fill="#f7961e" stroke="#d9801a" stroke-width="0.5"/><ellipse cx="6.3" cy="-20.6" rx="3.3" ry="4.7" fill="#d4232b" transform="rotate(-18 6.3 -20.6)"/><line x1="1.2" y1="-26.2" x2="4.6" y2="-28.6" stroke="#6b5030" stroke-width="1.1"/><ellipse cx="-6.3" cy="-20.6" rx="3.3" ry="4.7" fill="#d4232b" transform="rotate(18 -6.3 -20.6)"/><line x1="-1.2" y1="-26.2" x2="-4.6" y2="-28.6" stroke="#6b5030" stroke-width="1.1"/></g>
<g transform="translate(1874.1 1799.3) rotate(0) scale(1)"><g transform="scale(1 1)"><path d="M6.5,-25.5 L9.5,-29 L12,-31.5" fill="none" stroke="#eaa977" stroke-width="1"/><path d="M9,-3 L14,-1.5 L19,-0.5 L27,0" fill="none" stroke="#eaa977" stroke-width="1"/><path d="M6,10 L10,17 L11,22" fill="none" stroke="#eaa977" stroke-width="1"/><ellipse cx="15.3" cy="14" rx="7" ry="17" transform="rotate(-14 15.3 14)" fill="#b6b6b6" stroke="#8c8c8c" stroke-width="0.8"/><path d="M10,-1 C14,8 19,17 23,27" fill="none" stroke="#9d8f86" stroke-width="0.7"/><path d="M12,2 C13,12 15,20 17,29" fill="none" stroke="#a39a94" stroke-width="0.5"/></g><g transform="scale(-1 1)"><path d="M6.5,-25.5 L9.5,-29 L12,-31.5" fill="none" stroke="#eaa977" stroke-width="1"/><path d="M9,-3 L14,-1.5 L19,-0.5 L27,0" fill="none" stroke="#eaa977" stroke-width="1"/><path d="M6,10 L10,17 L11,22" fill="none" stroke="#eaa977" stroke-width="1"/><ellipse cx="15.3" cy="14" rx="7" ry="17" transform="rotate(-14 15.3 14)" fill="#b6b6b6" stroke="#8c8c8c" stroke-width="0.8"/><path d="M10,-1 C14,8 19,17 23,27" fill="none" stroke="#9d8f86" stroke-width="0.7"/><path d="M12,2 C13,12 15,20 17,29" fill="none" stroke="#a39a94" stroke-width="0.5"/></g><ellipse cx="0" cy="13.2" rx="7.6" ry="9.4" fill="#f7961e" stroke="#d9801a" stroke-width="0.6"/><line x1="-7.4" y1="14.9" x2="7.4" y2="14.9" stroke="#6b3410" stroke-width="1.7"/><line x1="-6.6" y1="17.7" x2="6.6" y2="17.7" stroke="#6b3410" stroke-width="1.9"/><line x1="-5" y1="20.4" x2="5" y2="20.4" stroke="#6b3410" stroke-width="1.6"/><path d="M0,-15.3 C6.5,-15.3 9.6,-11.5 9.2,-5.5 C8.8,0.5 4.5,5.8 0,6.6 C-4.5,5.8 -8.8,0.5 -9.2,-5.5 C-9.6,-11.5 -6.5,-15.3 0,-15.3 Z" fill="#f7961e" stroke="#d9801a" stroke-width="0.7"/><ellipse cx="0" cy="-20.8" rx="8.8" ry="5.7" fill="#f7961e" stroke="#d9801a" stroke-width="0.5"/><ellipse cx="6.3" cy="-20.6" rx="3.3" ry="4.7" fill="#d4232b" transform="rotate(-18 6.3 -20.6)"/><line x1="1.2" y1="-26.2" x2="4.6" y2="-28.6" stroke="#6b5030" stroke-width="1.1"/><ellipse cx="-6.3" cy="-20.6" rx="3.3" ry="4.7" fill="#d4232b" transform="rotate(18 -6.3 -20.6)"/><line x1="-1.2" y1="-26.2" x2="-4.6" y2="-28.6" stroke="#6b5030" stroke-width="1.1"/></g>
<g transform="translate(1966.5 1804) rotate(90) scale(1.22)"><g transform="scale(1 1)"><path d="M6.5,-25.5 L9.5,-29 L12,-31.5" fill="none" stroke="#eaa977" stroke-width="1"/><path d="M9,-3 L14,-1.5 L19,-0.5 L27,0" fill="none" stroke="#eaa977" stroke-width="1"/><path d="M6,10 L10,17 L11,22" fill="none" stroke="#eaa977" stroke-width="1"/><ellipse cx="15.3" cy="14" rx="7" ry="17" transform="rotate(-14 15.3 14)" fill="#b6b6b6" stroke="#8c8c8c" stroke-width="0.8"/><path d="M10,-1 C14,8 19,17 23,27" fill="none" stroke="#9d8f86" stroke-width="0.7"/><path d="M12,2 C13,12 15,20 17,29" fill="none" stroke="#a39a94" stroke-width="0.5"/></g><g transform="scale(-1 1)"><path d="M6.5,-25.5 L9.5,-29 L12,-31.5" fill="none" stroke="#eaa977" stroke-width="1"/><path d="M9,-3 L14,-1.5 L19,-0.5 L27,0" fill="none" stroke="#eaa977" stroke-width="1"/><path d="M6,10 L10,17 L11,22" fill="none" stroke="#eaa977" stroke-width="1"/><ellipse cx="15.3" cy="14" rx="7" ry="17" transform="rotate(-14 15.3 14)" fill="#b6b6b6" stroke="#8c8c8c" stroke-width="0.8"/><path d="M10,-1 C14,8 19,17 23,27" fill="none" stroke="#9d8f86" stroke-width="0.7"/><path d="M12,2 C13,12 15,20 17,29" fill="none" stroke="#a39a94" stroke-width="0.5"/></g><ellipse cx="0" cy="13.2" rx="7.6" ry="9.4" fill="#f7961e" stroke="#d9801a" stroke-width="0.6"/><line x1="-7.4" y1="14.9" x2="7.4" y2="14.9" stroke="#6b3410" stroke-width="1.7"/><line x1="-6.6" y1="17.7" x2="6.6" y2="17.7" stroke="#6b3410" stroke-width="1.9"/><line x1="-5" y1="20.4" x2="5" y2="20.4" stroke="#6b3410" stroke-width="1.6"/><path d="M0,-15.3 C6.5,-15.3 9.6,-11.5 9.2,-5.5 C8.8,0.5 4.5,5.8 0,6.6 C-4.5,5.8 -8.8,0.5 -9.2,-5.5 C-9.6,-11.5 -6.5,-15.3 0,-15.3 Z" fill="#f7961e" stroke="#d9801a" stroke-width="0.7"/><ellipse cx="0" cy="-20.8" rx="8.8" ry="5.7" fill="#f7961e" stroke="#d9801a" stroke-width="0.5"/><ellipse cx="6.3" cy="-20.6" rx="3.3" ry="4.7" fill="#d4232b" transform="rotate(-18 6.3 -20.6)"/><line x1="1.2" y1="-26.2" x2="4.6" y2="-28.6" stroke="#6b5030" stroke-width="1.1"/><ellipse cx="-6.3" cy="-20.6" rx="3.3" ry="4.7" fill="#d4232b" transform="rotate(18 -6.3 -20.6)"/><line x1="-1.2" y1="-26.2" x2="-4.6" y2="-28.6" stroke="#6b5030" stroke-width="1.1"/></g>
<text x="1396.93" y="1383.6" font-size="44.16">580 um</text>
<line x1="1443.3" y1="1418.3" x2="1523.9" y2="1418.3" stroke="#000" stroke-width="4.8"/>
<line x1="1469" y1="1392.9" x2="1489.1" y2="1418" stroke="#000" stroke-width="3.6"/>
<defs><clipPath id="clipH"><rect x="1414.9" y="1429.2" width="131" height="131"/></clipPath></defs>
<g clip-path="url(#clipH)">
<g transform="translate(1414.9 1429.2) scale(0.58) translate(-1390.9 -813.9)">
<ellipse cx="1478.8" cy="885.1" rx="21" ry="22" fill="#333" stroke="#000" stroke-width="7" transform="rotate(-15 1478.8 885.1)"/><ellipse cx="1547.8" cy="885.1" rx="21" ry="22" fill="#333" stroke="#000" stroke-width="7" transform="rotate(15 1547.8 885.1)"/><line x1="1430.1" y1="845.2" x2="1459.5" y2="867.7" stroke="#231f20" stroke-width="6"/><line x1="1442.1" y1="870.9" x2="1461.8" y2="853.4" stroke="#231f20" stroke-width="6"/><line x1="1435.2" y1="860.8" x2="1451.7" y2="843.8" stroke="#231f20" stroke-width="6"/><line x1="1597.4" y1="845.2" x2="1568" y2="867.7" stroke="#231f20" stroke-width="6"/><line x1="1585.4" y1="870.9" x2="1565.7" y2="853.4" stroke="#231f20" stroke-width="6"/><line x1="1592.3" y1="860.8" x2="1575.8" y2="843.8" stroke="#231f20" stroke-width="6"/><defs><clipPath id="hcH"><path d="M1392.1,924.8 C1399.15,918.72 1408.13,911.55 1416.3,906.5 C1424.47,901.45 1431.02,897.92 1441.1,894.5 C1451.18,891.08 1465.32,888.08 1476.8,886 C1488.28,883.92 1497.92,881.92 1510,882 C1522.08,882.08 1536.7,884.22 1549.3,886.5 C1561.9,888.78 1574.52,891.95 1585.6,895.7 C1596.68,899.45 1606.73,903.62 1615.8,909 C1624.87,914.38 1633.47,918.67 1640,928 C1646.53,937.33 1653.33,952.17 1655,965 C1656.67,977.83 1653.83,994.5 1650,1005 C1646.17,1015.5 1637.7,1022.93 1632,1028 C1626.3,1033.07 1623.53,1033.77 1615.8,1035.4 C1608.07,1037.03 1602.73,1037.33 1585.6,1037.8 C1568.47,1038.27 1537.08,1038.2 1513,1038.2 C1488.92,1038.2 1457.22,1038.17 1441.1,1037.8 C1424.98,1037.43 1424.47,1037.3 1416.3,1036 C1408.13,1034.7 1399.15,1034 1392.1,1030 C1385.05,1026 1378.35,1021.17 1374,1012 C1369.65,1002.83 1366,986.5 1366,975 C1366,963.5 1369.65,951.37 1374,943 C1378.35,934.63 1385.05,930.88 1392.1,924.8 Z"/></clipPath></defs><path d="M1392.1,924.8 C1399.15,918.72 1408.13,911.55 1416.3,906.5 C1424.47,901.45 1431.02,897.92 1441.1,894.5 C1451.18,891.08 1465.32,888.08 1476.8,886 C1488.28,883.92 1497.92,881.92 1510,882 C1522.08,882.08 1536.7,884.22 1549.3,886.5 C1561.9,888.78 1574.52,891.95 1585.6,895.7 C1596.68,899.45 1606.73,903.62 1615.8,909 C1624.87,914.38 1633.47,918.67 1640,928 C1646.53,937.33 1653.33,952.17 1655,965 C1656.67,977.83 1653.83,994.5 1650,1005 C1646.17,1015.5 1637.7,1022.93 1632,1028 C1626.3,1033.07 1623.53,1033.77 1615.8,1035.4 C1608.07,1037.03 1602.73,1037.33 1585.6,1037.8 C1568.47,1038.27 1537.08,1038.2 1513,1038.2 C1488.92,1038.2 1457.22,1038.17 1441.1,1037.8 C1424.98,1037.43 1424.47,1037.3 1416.3,1036 C1408.13,1034.7 1399.15,1034 1392.1,1030 C1385.05,1026 1378.35,1021.17 1374,1012 C1369.65,1002.83 1366,986.5 1366,975 C1366,963.5 1369.65,951.37 1374,943 C1378.35,934.63 1385.05,930.88 1392.1,924.8 Z" fill="#ccc"/><g clip-path="url(#hcH)"><path d="M1416.28,907.21 C1418.91,907.21 1427.37,906.61 1432.01,907.21 C1436.64,907.82 1440.68,909.33 1444.1,910.84 C1447.53,912.35 1450.15,913.97 1452.57,916.28 C1454.99,918.6 1457.21,921.73 1458.62,924.75 C1460.03,927.77 1460.73,930.8 1461.04,934.43 C1461.34,938.06 1460.83,942.49 1460.43,946.52 C1460.03,950.55 1459.52,954.58 1458.62,958.62 C1457.71,962.65 1456.4,966.68 1454.99,970.71 C1453.58,974.74 1451.86,978.77 1450.15,982.81 C1448.44,986.84 1446.72,990.87 1444.71,994.9 C1442.69,998.93 1440.37,1003.57 1438.06,1007 C1435.74,1010.42 1433.42,1013.04 1430.8,1015.46 C1428.18,1017.88 1425.36,1019.9 1422.33,1021.51 C1419.31,1023.12 1415.68,1024.33 1412.66,1025.14 C1409.63,1025.94 1407.62,1026.04 1404.19,1026.35 C1400.76,1026.65 1398.14,1026.85 1392.09,1026.95 C1386.05,1027.05 1371.94,1026.95 1367.91,1026.95 L1343.72,1026.95 L1343.72,892.09 Z" fill="#4d4d4d"/><path d="M1597.71,908.42 C1595.29,908.32 1587.02,906.91 1583.19,907.82 C1579.36,908.73 1576.94,911.85 1574.73,913.87 C1572.51,915.88 1571.2,917.49 1569.89,919.91 C1568.58,922.33 1567.47,925.56 1566.87,928.38 C1566.26,931.2 1566.16,933.22 1566.26,936.85 C1566.36,940.47 1566.87,945.51 1567.47,950.15 C1568.07,954.79 1568.78,960.03 1569.89,964.66 C1571,969.3 1572.51,973.53 1574.12,977.97 C1575.73,982.4 1577.45,987.04 1579.56,991.27 C1581.68,995.51 1584.2,999.74 1586.82,1003.37 C1589.44,1007 1592.26,1010.12 1595.29,1013.04 C1598.31,1015.97 1601.54,1018.69 1604.96,1020.9 C1608.39,1023.12 1611.01,1024.94 1615.85,1026.35 C1620.69,1027.76 1630.97,1028.87 1633.99,1029.37 L1658.18,1029.37 L1658.18,892.09 Z" fill="#666"/></g><path d="M1392.1,924.8 C1399.15,918.72 1408.13,911.55 1416.3,906.5 C1424.47,901.45 1431.02,897.92 1441.1,894.5 C1451.18,891.08 1465.32,888.08 1476.8,886 C1488.28,883.92 1497.92,881.92 1510,882 C1522.08,882.08 1536.7,884.22 1549.3,886.5 C1561.9,888.78 1574.52,891.95 1585.6,895.7 C1596.68,899.45 1606.73,903.62 1615.8,909 C1624.87,914.38 1633.47,918.67 1640,928 C1646.53,937.33 1653.33,952.17 1655,965 C1656.67,977.83 1653.83,994.5 1650,1005 C1646.17,1015.5 1637.7,1022.93 1632,1028 C1626.3,1033.07 1623.53,1033.77 1615.8,1035.4 C1608.07,1037.03 1602.73,1037.33 1585.6,1037.8 C1568.47,1038.27 1537.08,1038.2 1513,1038.2 C1488.92,1038.2 1457.22,1038.17 1441.1,1037.8 C1424.98,1037.43 1424.47,1037.3 1416.3,1036 C1408.13,1034.7 1399.15,1034 1392.1,1030 C1385.05,1026 1378.35,1021.17 1374,1012 C1369.65,1002.83 1366,986.5 1366,975 C1366,963.5 1369.65,951.37 1374,943 C1378.35,934.63 1385.05,930.88 1392.1,924.8 Z" fill="none" stroke="#6b3a12" stroke-width="4.1"/>
</g>
<rect x="1440.2" y="1429.2" width="83.7" height="131" fill="#ff0000" fill-opacity="0.65"/>
</g>
<rect x="1414.9" y="1429.2" width="131" height="131" fill="none" stroke="#b4b4b4" stroke-width="1.7"/>
</svg>
</body>
</html>
